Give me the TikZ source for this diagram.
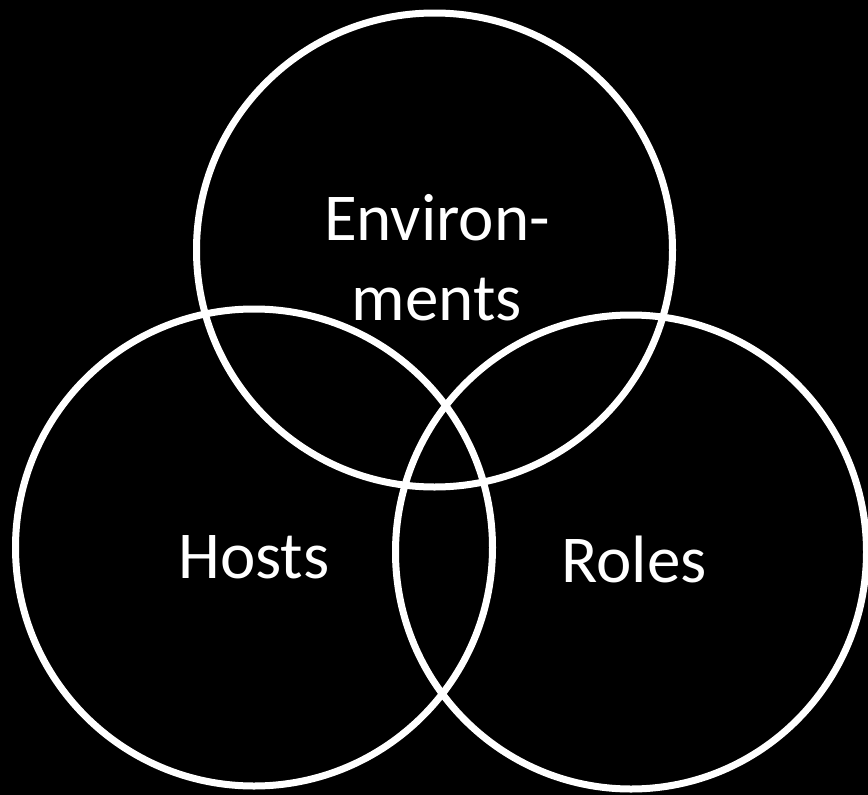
\documentclass[tikz,border=0pt]{standalone}
\usepackage{fontspec}
\setmainfont{Carlito}
\begin{document}
\begin{tikzpicture}[x=1pt,y=-1pt,
  ring/.style={draw=white,line width=7pt},
  label/.style={text=white,font=\fontsize{67}{80}\selectfont,anchor=base,inner sep=0pt}]
\fill[black] (0,0) rectangle (868,795);
\useasboundingbox (0,0) rectangle (868,795);
\draw[ring] (434.5,250) ellipse [x radius=238, y radius=237];
\draw[ring] (254,547.5) ellipse [x radius=238.5, y radius=238.5];
\draw[ring] (631,552) ellipse [x radius=235.5, y radius=237];
\node[label] (env1) at (437,240) {Environ-};
\node[label] (env2) at (437,320) {ments};
\node[label] (hosts) at (254,578) {Hosts};
\node[label] (roles) at (634,582) {Roles};
\end{tikzpicture}
\end{document}
